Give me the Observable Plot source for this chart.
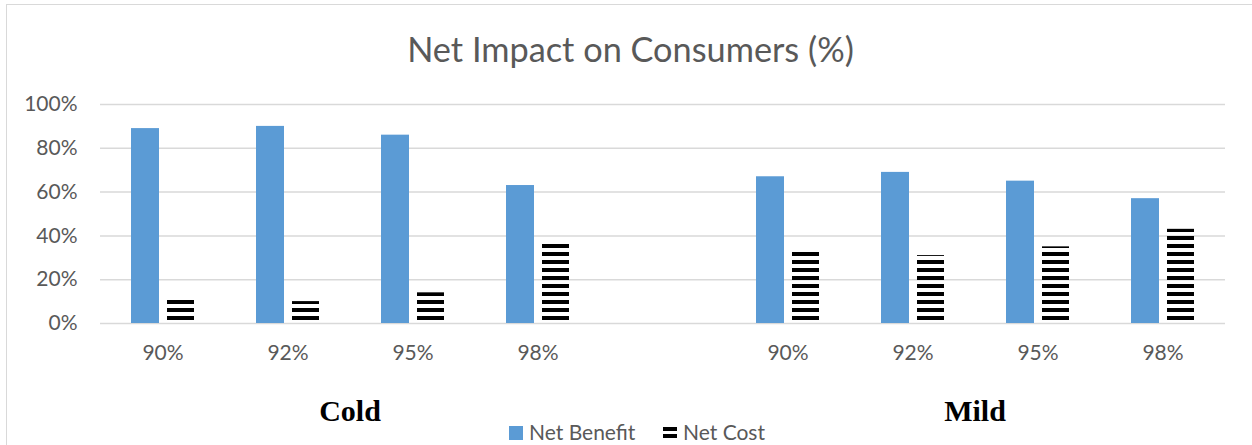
<!DOCTYPE html>
<html>
<head>
<meta charset="utf-8">
<script src="https://cdn.jsdelivr.net/npm/d3@7"></script>
<script src="https://cdn.jsdelivr.net/npm/@observablehq/plot@0.6"></script>
<style>
  html, body { margin: 0; padding: 0; background: #fff; }
  #wrap { position: relative; width: 1252px; height: 445px; overflow: hidden; font-family: Lato, "Open Sans", sans-serif; }
  #border { position: absolute; left: 6px; top: 4px; width: 1300px; height: 500px; border-left: 1.5px solid #d9d9d9; border-top: 1.5px solid #d9d9d9; box-sizing: border-box; }
  #title { position: absolute; left: 0; top: 31.5px; width: 1261px; text-align: center; font-size: 34.3px; line-height: 34.3px; color: #595959; font-weight: 400; white-space: nowrap; }
  #chart { position: absolute; left: 0; top: 84px; }
  .group { position: absolute; top: 396px; width: 200px; text-align: center; font-family: "Liberation Serif", "Times New Roman", serif; font-weight: bold; font-size: 30px; line-height: 30px; color: #000; }
  #legend { position: absolute; top: 421px; left: 0; width: 1252px; height: 24px; font-size: 21px; line-height: 21px; color: #595959; }
  .item { position: absolute; top: 0; white-space: nowrap; }
  .sw { position: absolute; top: 5px; width: 14px; height: 14px; }
  .lbl { position: absolute; left: 20px; top: 0; }
</style>
</head>
<body>
<div id="wrap">
  <div id="border"></div>
  <div id="title">Net Impact on Consumers (%)</div>
  <div id="chart"></div>
  <div id="groups"></div>
  <div id="legend"></div>
</div>
<script>
// ---- data ----
const climates = ["Cold", "Mild"];
const efficiencies = ["90%", "92%", "95%", "98%"];
const netBenefit = [89, 90, 86, 63, 67, 69, 65, 57];
const netCost = [11, 10, 14, 37, 33, 31, 35, 43];
const seriesNames = ["Net Benefit", "Net Cost"];
const yTicks = [0, 20, 40, 60, 80, 100];

// build table
const rows = [];
climates.forEach((c, ci) => efficiencies.forEach((e, ei) => {
  const i = ci * efficiencies.length + ei;
  rows.push({key: c + "|" + e, climate: c, eff: e, benefit: netBenefit[i], cost: netCost[i]});
}));
const xDomain = [];
climates.forEach((c, ci) => {
  if (ci > 0) xDomain.push("gap" + ci);
  efficiencies.forEach(e => xDomain.push(c + "|" + e));
});

const W = 1252, H = 300;
const plot = Plot.plot({
  width: W,
  height: H,
  marginLeft: 100,
  marginRight: 27,
  marginTop: 20,
  marginBottom: 61,
  style: {fontFamily: "Lato, 'Open Sans', sans-serif", fontSize: "21px", color: "#595959", background: "transparent"},
  x: {domain: xDomain, padding: 0, label: null, tickSize: 0, tickPadding: 22,
      tickFormat: d => d.startsWith("gap") ? "" : d.split("|")[1]},
  y: {domain: [0, 100], ticks: yTicks, label: null, tickSize: 0, tickPadding: 23, tickFormat: d => d + "%"},
  marks: [
    Plot.ruleY(yTicks, {stroke: "#d9d9d9", strokeWidth: 1.5}),
    Plot.barY(rows, {x: "key", y: "benefit", fill: "#5B9BD5", insetLeft: 31, insetRight: 66}),
    Plot.barY(rows, {x: "key", y: "cost", fill: "url(#stripes)", insetLeft: 67, insetRight: 31})
  ]
});

// stripe pattern
const svgNS = "http://www.w3.org/2000/svg";
const defs = document.createElementNS(svgNS, "defs");
defs.innerHTML = '<pattern id="stripes" patternUnits="userSpaceOnUse" x="0" y="0" width="8" height="8"><rect x="0" y="0" width="8" height="4" fill="#000"/></pattern>';
plot.insertBefore(defs, plot.firstChild);
d3.select(plot).selectAll("g[aria-label='y-axis tick label'] text, g[aria-label='x-axis tick label'] text").attr("fill", "#595959");
document.getElementById("chart").appendChild(plot);

// group labels
const xs = d3.scaleBand().domain(xDomain).range([100, W - 27]);
const groupsDiv = document.getElementById("groups");
climates.forEach(c => {
  const first = xs(c + "|" + efficiencies[0]);
  const last = xs(c + "|" + efficiencies[efficiencies.length - 1]) + xs.bandwidth();
  const mid = (first + last) / 2;
  const d = document.createElement("div");
  d.className = "group";
  d.style.left = (mid - 100) + "px";
  d.textContent = c;
  groupsDiv.appendChild(d);
});

// legend
const legend = document.getElementById("legend");
const legendX = [509, 663];
seriesNames.forEach((s, i) => {
  const it = document.createElement("div");
  it.className = "item";
  it.style.left = legendX[i] + "px";
  const sw = i === 0
    ? '<svg class="sw" viewBox="0 0 14 14"><rect width="14" height="14" fill="#5B9BD5"/></svg>'
    : '<svg class="sw" viewBox="0 0 14 14"><rect y="1" width="14" height="4" fill="#000"/><rect y="8" width="14" height="4" fill="#000"/></svg>';
  it.innerHTML = sw + '<span class="lbl">' + s + '</span>';
  legend.appendChild(it);
});
</script>
</body>
</html>
